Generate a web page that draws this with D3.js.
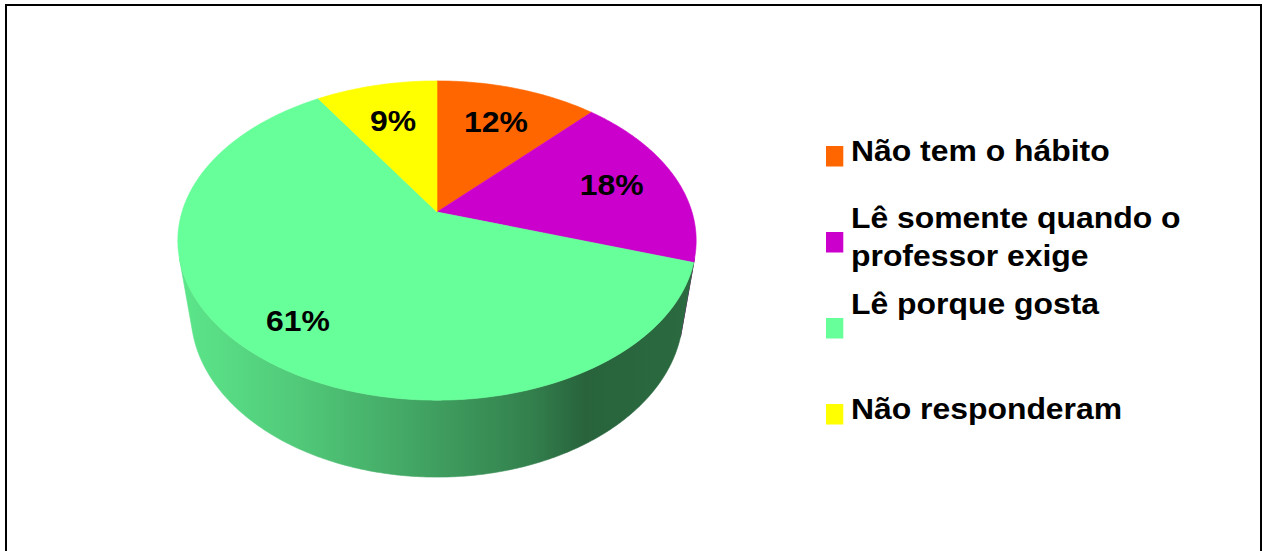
<!DOCTYPE html>
<html>
<head>
<meta charset="utf-8">
<script src="https://cdn.jsdelivr.net/npm/d3@7"></script>
<style>
  body { margin: 0; background: #fff; }
  text { font-family: "Liberation Sans", Arial, sans-serif; font-weight: bold; fill: #000; }
</style>
</head>
<body>
<svg width="1267" height="551"></svg>
<script>
// data
const categories = ['Não tem o hábito', 'Lê somente quando o\nprofessor exige', 'Lê porque gosta\n', 'Não responderam'];
const values = [12, 18, 61, 9];
const valueLabels = ['12%', '18%', '61%', '9%'];

// styles
const colors = ['#FF6600', '#CC00CC', '#66FF99', '#FFFF00'];
const labelRadius = [0.70, 0.73, 0.79, 0.69];

const svg = d3.select('svg');
const width = +svg.attr('width');
const height = +svg.attr('height');

// frame
svg.append('rect')
    .attr('x', 6).attr('y', 5)
    .attr('width', 1255).attr('height', 600)
    .attr('fill', 'none')
    .attr('stroke', '#000')
    .attr('stroke-width', 2);

// 3d projection of the pie (perspective, camera looking down)
const cx = 437, cy = 212;
const S = 255;
const phi = 37.3 * Math.PI / 180;
const sinP = Math.sin(phi), cosP = Math.cos(phi);
const D = 4.45;
const depthH = 0.379;

const project = (theta, r, Y) => {
    const X = r * Math.sin(theta);
    const Z = -r * Math.cos(theta);
    const depth = D - Y * sinP - Z * cosP;
    const up = Y * cosP - Z * sinP;
    const k = D / depth;
    return [cx + S * X * k, cy - S * up * k];
};

const color = d3.scaleOrdinal().domain(categories).range(colors);

const pie = d3.pie().sort(null).value(d => d.value).startAngle(0).endAngle(2 * Math.PI);
const data = categories.map((c, i) => ({ name: c, value: values[i], label: valueLabels[i], lr: labelRadius[i] }));
const arcs = pie(data);

const rim = (a0, a1, Y) => {
    const n = Math.max(2, Math.ceil((a1 - a0) / 0.01));
    return d3.range(n + 1).map(j => project(a0 + (a1 - a0) * j / n, 1, Y));
};

const line = d3.line();
const defs = svg.append('defs');
const g = svg.append('g');

// visible part of the outer wall
const visLo = Math.acos(-1 / (D * cosP));
const visHi = 2 * Math.PI - visLo;
const gx0 = 180, gx1 = 696;
const shade = [[0, 0.9], [0.23, 0.79], [0.5, 0.62], [0.68, 0.5], [0.785, 0.39], [1, 0.42]];

arcs.forEach((d, i) => {
    const a0 = Math.max(d.startAngle, visLo);
    const a1 = Math.min(d.endAngle, visHi);
    if (a0 >= a1) return;
    const base = d3.rgb(color(d.data.name));
    const grad = defs.append('linearGradient')
        .attr('id', 'side' + i)
        .attr('gradientUnits', 'userSpaceOnUse')
        .attr('x1', gx0).attr('y1', 0)
        .attr('x2', gx1).attr('y2', 0);
    grad.selectAll('stop').data(shade).enter().append('stop')
        .attr('offset', s => s[0])
        .attr('stop-color', s => d3.rgb(base.r * s[1], base.g * s[1], base.b * s[1]).formatHex());
    const pts = rim(a0, a1, 0).concat(rim(a0, a1, -depthH).reverse());
    g.append('path')
        .attr('d', line(pts) + 'Z')
        .attr('fill', `url(#side${i})`)
        .attr('stroke', `url(#side${i})`)
        .attr('stroke-width', 0.6);
});

// top faces
g.selectAll('path.top').data(arcs).enter().append('path')
    .attr('class', 'top')
    .attr('d', d => line([project(0, 0, 0)].concat(rim(d.startAngle, d.endAngle, 0))) + 'Z')
    .attr('fill', d => color(d.data.name))
    .attr('stroke', d => color(d.data.name))
    .attr('stroke-width', 0.6);

// value labels
const fontSize = 29;
g.selectAll('text.val').data(arcs).enter().append('text')
    .attr('class', 'val')
    .attr('text-anchor', 'middle')
    .attr('font-size', fontSize)
    .attr('transform', d => {
        const p = project((d.startAngle + d.endAngle) / 2, d.data.lr, 0);
        return `translate(${p[0]},${p[1] + fontSize * 0.36}) scale(1.1,1)`;
    })
    .text(d => d.data.label);

// legend
const legendY = d3.scaleBand().domain(categories).range([146, 490]);
const lineGap = 38;
const legend = svg.append('g');
const item = legend.selectAll('g').data(categories).enter().append('g');

item.append('rect')
    .attr('x', 826)
    .attr('y', d => legendY(d))
    .attr('width', 17.3)
    .attr('height', 20.5)
    .attr('fill', d => color(d));

item.each(function (d) {
    const lines = d.split('\n');
    const mid = legendY(d) + 10.25;
    d3.select(this).selectAll('text').data(lines).enter().append('text')
        .attr('font-size', fontSize)
        .attr('transform', (t, j) => `translate(851,${mid + 5 + (j - (lines.length - 1) / 2) * lineGap}) scale(1.1,1)`)
        .text(t => t);
});
</script>
</body>
</html>
